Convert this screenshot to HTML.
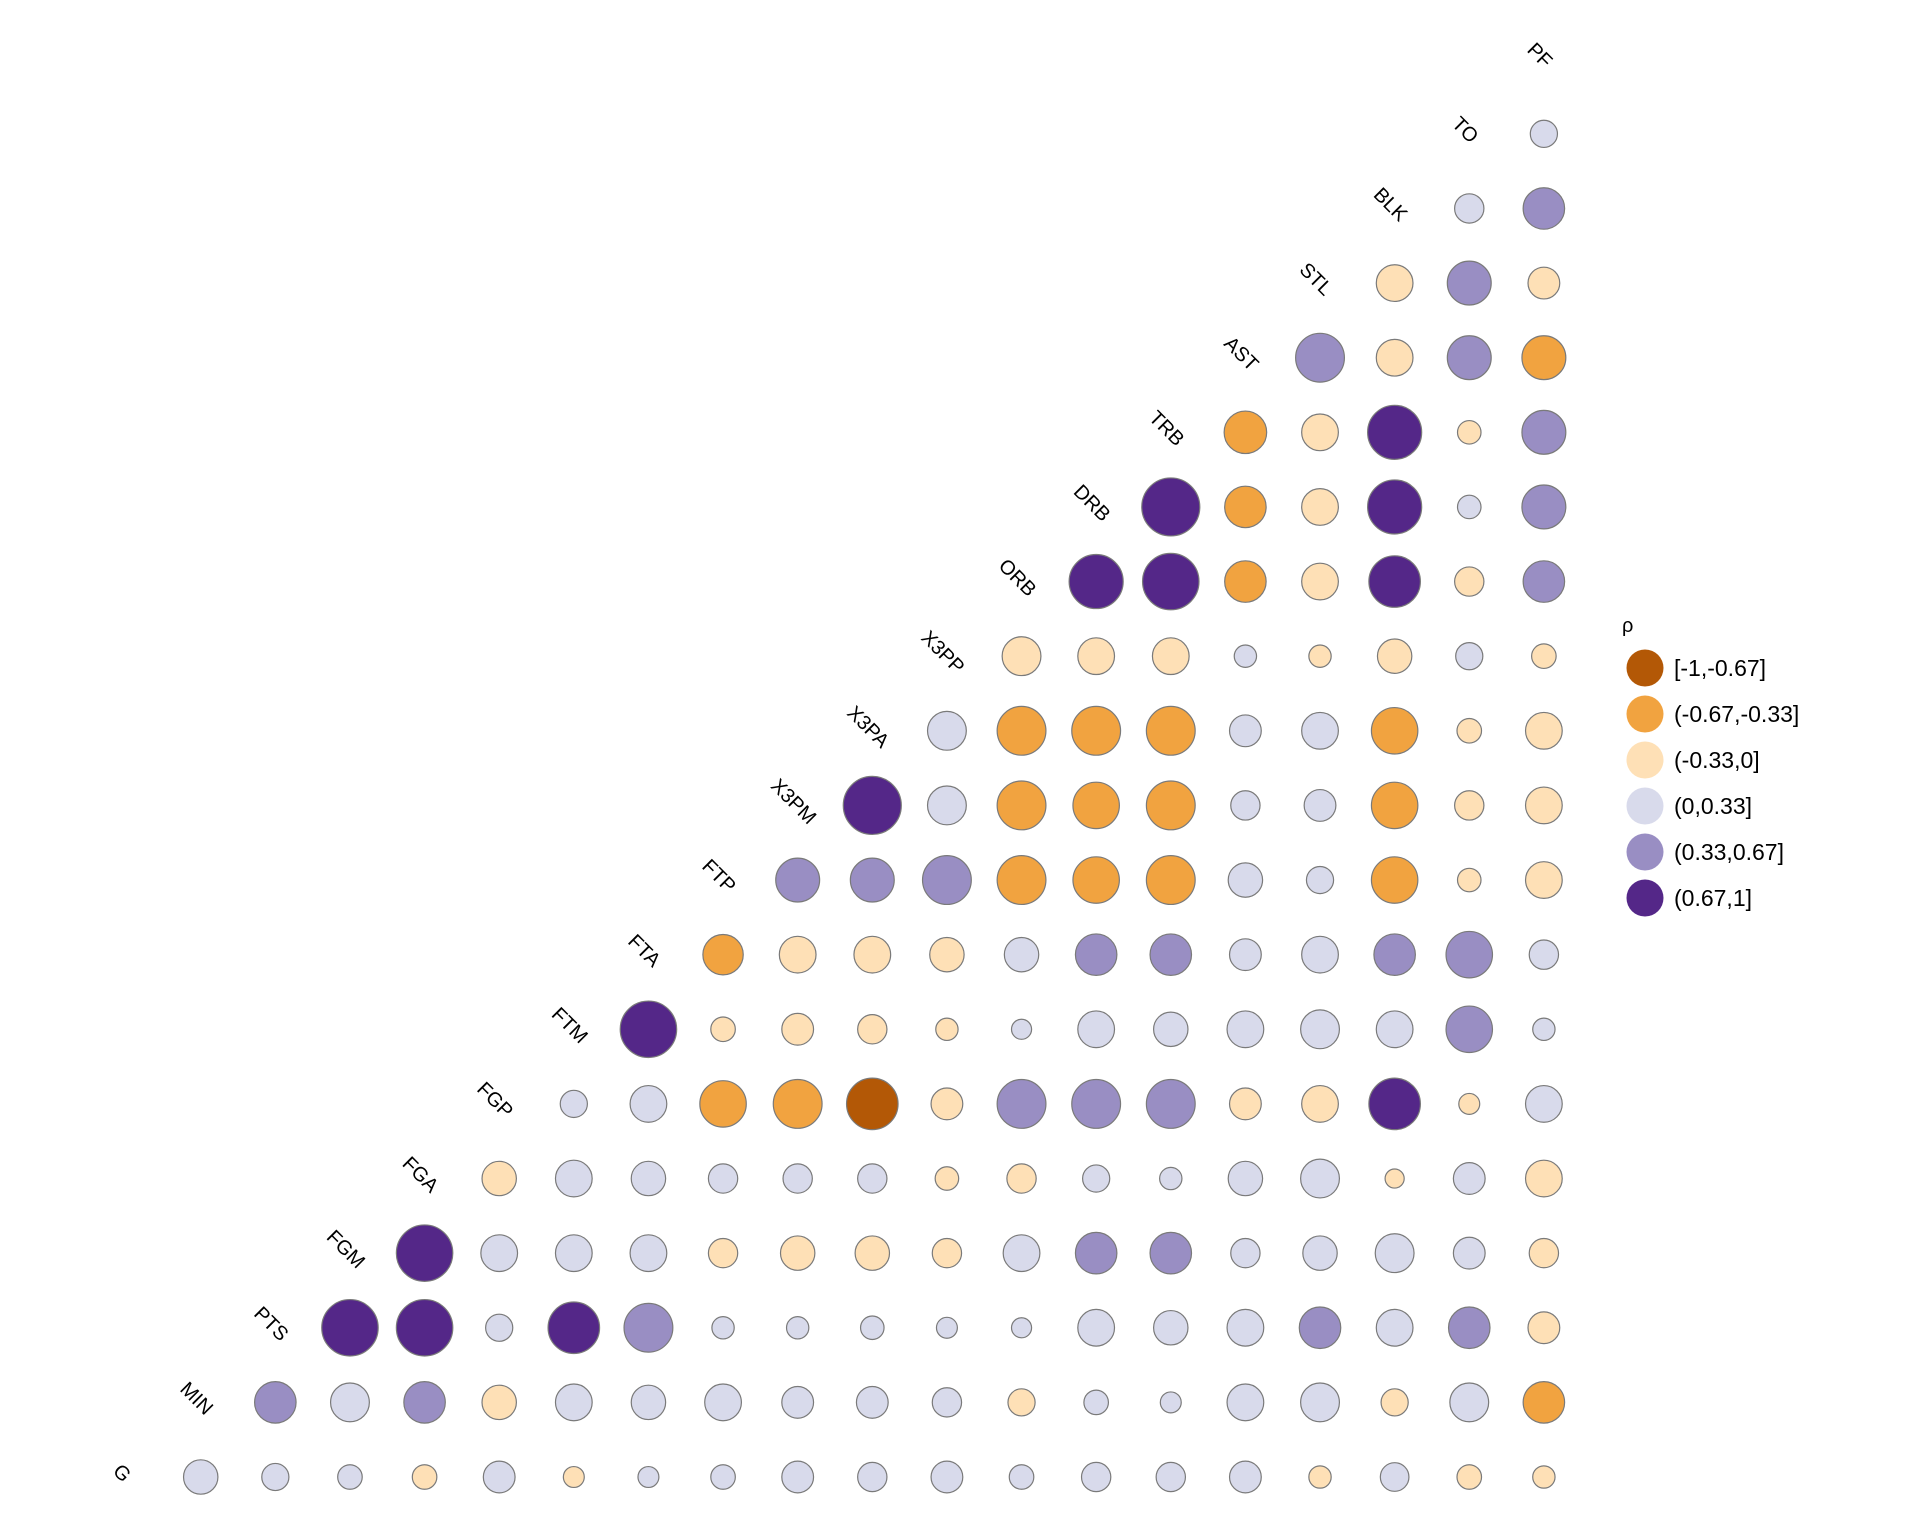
<!DOCTYPE html>
<html><head><meta charset="utf-8">
<style>
html,body{margin:0;padding:0;background:#fff;}
svg{display:block;font-family:"Liberation Sans",sans-serif;}
</style></head>
<body>
<svg id="chart" width="1920" height="1536" viewBox="0 0 1920 1536">
<rect width="1920" height="1536" fill="#fff"/>
<g id="cells"></g>
<g id="labels"></g>
<g id="legend">
<text x="1622" y="632" font-size="20" fill="#000">ρ</text>
</g>
</svg>
<script>
const variables = ["G","MIN","PTS","FGM","FGA","FGP","FTM","FTA","FTP","X3PM","X3PA","X3PP","ORB","DRB","TRB","AST","STL","BLK","TO","PF"];
// upper triangle: row i lists correlations with variables i+1..end
const rowG    = [0.2,0.08,0.05,-0.05,0.15,-0.02,0.02,0.05,0.15,0.11,0.15,0.05,0.11,0.11,0.15,-0.03,0.1,-0.05,-0.03];
const rowMIN  = [0.37,0.3,0.37,-0.2,0.25,0.2,0.25,0.15,0.15,0.11,-0.08,0.05,0.02,0.25,0.3,-0.08,0.3,-0.37];
const rowPTS  = [0.9,0.9,0.08,0.7,0.6,0.03,0.03,0.04,0.02,0.015,0.25,0.2,0.25,0.37,0.25,0.37,-0.15];
const rowFGM  = [0.9,0.25,0.25,0.25,-0.11,-0.2,-0.2,-0.11,0.25,0.37,0.37,0.11,0.2,0.3,0.15,-0.11];
const rowFGA  = [-0.2,0.25,0.2,0.11,0.11,0.11,-0.04,-0.11,0.08,0.03,0.2,0.3,-0.01,0.15,-0.25];
const rowFGP  = [0.08,0.25,-0.52,-0.6,-0.7,-0.15,0.6,0.6,0.6,-0.15,-0.25,0.7,-0.02,0.25];
const rowFTM  = [0.9,-0.05,-0.15,-0.11,-0.03,0.015,0.25,0.2,0.25,0.3,0.25,0.52,0.03];
const rowFTA  = [-0.34,-0.25,-0.25,-0.2,0.2,0.37,0.37,0.15,0.25,0.37,0.52,0.11];
const rowFTP  = [0.44,0.44,0.6,-0.6,-0.52,-0.6,0.2,0.08,-0.52,-0.04,-0.25];
const rowX3PM = [0.97,0.3,-0.6,-0.52,-0.6,0.11,0.15,-0.52,-0.11,-0.25];
const rowX3PA = [0.3,-0.6,-0.6,-0.6,0.15,0.25,-0.52,-0.05,-0.25];
const rowX3PP = [-0.3,-0.25,-0.25,0.03,-0.03,-0.2,0.08,-0.05];
const rowORB  = [0.8,0.9,-0.37,-0.25,0.7,-0.11,0.37];
const rowDRB  = [0.97,-0.37,-0.25,0.8,0.04,0.44];
const rowTRB  = [-0.4,-0.25,0.8,-0.04,0.44];
const rowAST  = [0.6,-0.25,0.44,-0.44];
const rowSTL  = [-0.25,0.44,-0.15];
const rowBLK  = [0.11,0.37];
const rowTO   = [0.08];
const rows = [rowG,rowMIN,rowPTS,rowFGM,rowFGA,rowFGP,rowFTM,rowFTA,rowFTP,rowX3PM,rowX3PA,rowX3PP,rowORB,rowDRB,rowTRB,rowAST,rowSTL,rowBLK,rowTO];
const legendLabels = ["[-1,-0.67]","(-0.67,-0.33]","(-0.33,0]","(0,0.33]","(0.33,0.67]","(0.67,1]"];
const binColors = ["#B35806","#F1A340","#FEE0B6","#D8DAEB","#998EC3","#542788"];

const NS = "http://www.w3.org/2000/svg";
function xPos(k){ return 126.1 + 74.62*k; }
function yPos(k){ return 1477 - 74.62*k; }
function radius(r){ return 7.35 + 22*Math.sqrt(Math.abs(r)); }
function binIndex(r){
  if(r<=-0.67) return 0;
  if(r<=-0.33) return 1;
  if(r<=0) return 2;
  if(r<=0.33) return 3;
  if(r<=0.67) return 4;
  return 5;
}
const cells = document.getElementById('cells');
rows.forEach((row,i)=>{
  row.forEach((v,jj)=>{
    const j = i+1+jj;
    const c = document.createElementNS(NS,'circle');
    c.setAttribute('cx', xPos(j));
    c.setAttribute('cy', yPos(i));
    c.setAttribute('r', radius(v));
    c.setAttribute('fill', binColors[binIndex(v)]);
    c.setAttribute('stroke', '#7a7a7a');
    c.setAttribute('stroke-width', '1.2');
    
    
    cells.appendChild(c);
  });
});
const labels = document.getElementById('labels');
variables.forEach((name,k)=>{
  const t = document.createElementNS(NS,'text');
  const x = xPos(k)-5, y = yPos(k)-3;
  t.setAttribute('x', x);
  t.setAttribute('y', y);
  t.setAttribute('font-size', '20');
  t.setAttribute('text-anchor', 'middle');
  t.setAttribute('dominant-baseline', 'middle');
  t.setAttribute('transform', 'rotate(45 '+x+' '+y+')');
  t.setAttribute('fill', '#000');
  t.textContent = name;
  
  
  labels.appendChild(t);
});
const legend = document.getElementById('legend');
legendLabels.forEach((lab,i)=>{
  const cy = 668 + 46*i;
  const c = document.createElementNS(NS,'circle');
  c.setAttribute('cx', 1645);
  c.setAttribute('cy', cy);
  c.setAttribute('r', 18.5);
  c.setAttribute('fill', binColors[i]);
  
  
  legend.appendChild(c);
  const t = document.createElementNS(NS,'text');
  t.setAttribute('x', 1674);
  t.setAttribute('y', cy+8);
  t.setAttribute('font-size', '23');
  t.setAttribute('fill', '#000');
  t.textContent = lab;
  
  
  legend.appendChild(t);
});
</script>
</body></html>
